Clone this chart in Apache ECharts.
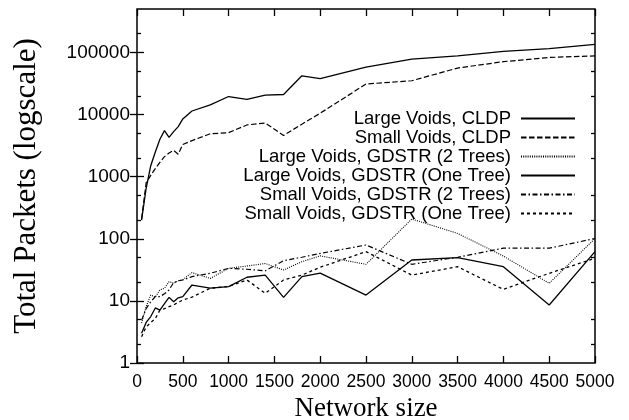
<!DOCTYPE html>
<html>
<head>
<meta charset="utf-8">
<script src="https://cdn.jsdelivr.net/npm/echarts@6/dist/echarts.min.js"></script>
<style>
html,body{margin:0;padding:0;background:#fff;}
#chart{width:629px;height:420px;}
</style>
</head>
<body>
<div id="chart"></div>
<script>
// Network sizes (x values)
const networkSizes = [50,100,150,200,250,300,350,400,450,500,600,800,1000,1200,1400,1600,1800,2000,2500,3000,3500,4000,4500,5000];

const largeCLDP = [200,650,1500,2500,4000,5500,4300,5300,6400,8500,11400,14300,19500,17500,20500,21000,42000,38000,58000,78000,88000,104000,115000,135000];
const smallCLDP = [210,800,1050,1350,1700,2100,2400,2650,2300,3300,3800,4900,5100,6800,7300,4600,7000,10500,31000,35000,56000,71000,83000,88000];
const largeGDSTR2 = [4.4,8.1,12.4,11.5,15,16,20.4,19.2,21,22,28.5,23,33.4,36.4,40,31.4,42.8,53,38.8,208,122,52.7,19.2,101];
const largeGDSTR1 = [3,4.5,5.6,7.7,7.1,9,11.4,9.7,11.2,11.7,18,16,17,24,26,11.4,24.6,28,12.4,45.5,49.6,35.5,8.6,62];
const smallGDSTR2 = [4.9,7.5,9.7,11.7,11.7,13,15,19.7,21,21.7,24.6,27.8,33.4,32.3,30.5,44.3,50.4,58,79.4,38.8,50.4,70.5,70.5,101];
const smallGDSTR1 = [2.65,3.8,4.5,5.2,7.1,7.5,8.1,8.6,9.5,10.3,11.5,16,17,21.7,13.3,21.7,26,34.8,62,26,35.5,15.3,27.8,48.6];

const seriesNames = [
  'Large Voids, CLDP',
  'Small Voids, CLDP',
  'Large Voids, GDSTR (2 Trees)',
  'Large Voids, GDSTR (One Tree)',
  'Small Voids, GDSTR (2 Trees)',
  'Small Voids, GDSTR (One Tree)'
];
const yTickValues = [1,10,100,1000,10000,100000];
const yMinorValues = [2,5,20,50,200,500,2000,5000,20000,50000,200000];

const seriesValues = [largeCLDP, smallCLDP, largeGDSTR2, largeGDSTR1, smallGDSTR2, smallGDSTR1];
const dashStyles = ['solid',[5.5,2.5],[1,1.2],'solid',[5,2.5,1.5,2.5],[3,3]];
const widths = [1.3,1.2,1.1,1.3,1.2,1.3];

const pair = (ys) => networkSizes.map((x,i)=>[x, ys[i]]);

const chart = echarts.init(document.getElementById('chart'), null, {renderer:'canvas'});

const sans = 'Liberation Sans, Arial, sans-serif';
const serif = 'Liberation Serif, Times New Roman, serif';

const option = {
  animation:false,
  backgroundColor:'#fff',
  grid:{left:137, right:34, top:9, bottom:57, containLabel:false, outerBoundsMode:'none',
        show:true, borderColor:'#000', borderWidth:1.5, backgroundColor:'transparent'},
  legend:{
    data:seriesNames,
    orient:'vertical',
    align:'right',
    right:48,
    top:104,
    itemWidth:54,
    itemHeight:10,
    itemGap:0,
    selectedMode:false,
    itemStyle:{opacity:0},
    textStyle:{fontFamily:sans, fontSize:18.5, color:'#000', lineHeight:18, padding:[0,5,0,0]}
  },
  xAxis:[
    {type:'value', min:0, max:5000, interval:500, position:'bottom',
     name:'Network size', nameLocation:'middle', nameGap:24,
     nameTextStyle:{fontFamily:serif, fontSize:27, color:'#000'},
     axisLine:{show:false}, splitLine:{show:false},
     axisTick:{inside:true, length:7, lineStyle:{color:'#000', width:1.3}},
     axisLabel:{margin:10, fontFamily:sans, fontSize:17.5, color:'#000', formatter:(v)=>String(v)}},
    {type:'value', min:0, max:5000, interval:500, position:'top',
     axisLine:{show:false}, splitLine:{show:false},
     axisTick:{inside:true, length:7, lineStyle:{color:'#000', width:1.3}},
     axisLabel:{show:false}}
  ],
  yAxis:[
    {type:'log', logBase:10, min:1, max:500000, position:'left',
     name:'Total Packets (logscale)', nameLocation:'middle', nameGap:95, nameRotate:90,
     nameTextStyle:{fontFamily:serif, fontSize:31, color:'#000'},
     axisLine:{show:false}, splitLine:{show:false},
     axisTick:{inside:true, length:7, customValues:yTickValues, lineStyle:{color:'#000', width:1.3}},
     axisLabel:{margin:7, fontFamily:sans, fontSize:19, color:'#000', customValues:yTickValues, formatter:(v)=>String(Math.round(v))}},
    {type:'log', logBase:10, min:1, max:500000, position:'right',
     axisLine:{show:false}, splitLine:{show:false},
     axisTick:{inside:true, length:7, customValues:yTickValues, lineStyle:{color:'#000', width:1.3}},
     axisLabel:{show:false}},
    {type:'log', logBase:10, min:1, max:500000, position:'left',
     axisLine:{show:false}, splitLine:{show:false},
     axisTick:{inside:true, length:4, customValues:yMinorValues, lineStyle:{color:'#000', width:1.3}},
     axisLabel:{show:false}},
    {type:'log', logBase:10, min:1, max:500000, position:'right',
     axisLine:{show:false}, splitLine:{show:false},
     axisTick:{inside:true, length:4, customValues:yMinorValues, lineStyle:{color:'#000', width:1.3}},
     axisLabel:{show:false}}
  ],
  series: seriesNames.map((name,i)=>({
    name:name,
    type:'line',
    xAxisIndex:0,
    yAxisIndex:0,
    symbol:'none',
    data:pair(seriesValues[i]),
    itemStyle:{color:'#000'},
    lineStyle:{color:'#000', width:widths[i], type:dashStyles[i]},
    z:3
  }))
};
chart.setOption(option);
</script>
</body>
</html>
